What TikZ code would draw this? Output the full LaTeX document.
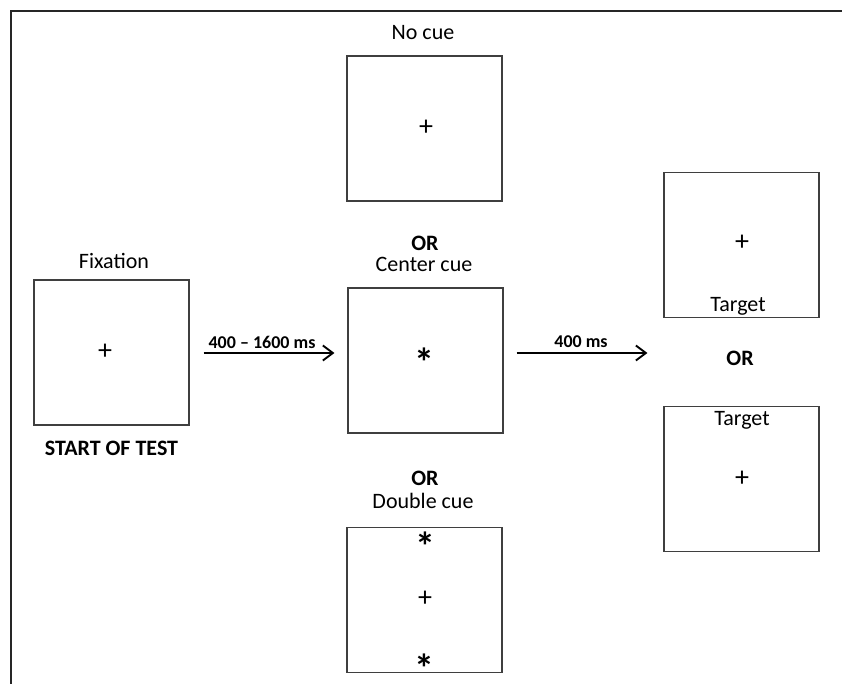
\documentclass[tikz,border=0pt]{standalone}
\usepackage{fontspec}
\setmainfont{Carlito}
\usetikzlibrary{arrows.meta,calc}
\definecolor{frameline}{HTML}{262626}
\definecolor{boxline}{HTML}{3F3F3F}
\begin{document}
\begin{tikzpicture}[x=1pt,y=-1pt,
  screen/.style={draw=boxline,line width=1.1pt,minimum width=155pt,minimum height=145pt,inner sep=0pt},
  lbl/.style={font=\fontsize{22}{26}\selectfont,inner sep=0pt},
  blbl/.style={font=\fontsize{22}{26}\selectfont\bfseries,inner sep=0pt},
  tlbl/.style={font=\fontsize{18}{22}\selectfont\bfseries,inner sep=0pt},
  sym/.style={font=\fontsize{28}{32}\selectfont,inner sep=0pt},
  star/.style={font=\fontsize{40}{44}\selectfont\bfseries,inner sep=0pt,anchor=base},
  arr/.style={line width=1.9pt,-{Straight Barb[length=10pt,width=15pt,line width=1.9pt]}}]
\useasboundingbox (0,0) rectangle (842,684);
\fill[white] (0,0) rectangle (842,684);

% open outer frame
\draw[frameline,line width=2.2pt] (11,684) -- (11,11) -- (842,11);

% fixation screen
\node[screen] (fix) at (111.5,352.5) {};
\node[lbl] (fixlbl) at (114,261) {Fixation};
\node[sym] (fixplus) at (105,352) {+};
\node[blbl] (start) at (111.5,448) {START OF TEST};

% cue screens
\node[screen] (nocue) at (424.5,128.5) {};
\node[lbl] (nocuelbl) at (423,33) {No cue};
\node[sym] (nocueplus) at (426,128) {+};

\node[blbl] (or1) at (425,243) {OR};
\node[lbl] (cclbl) at (424,264) {Center cue};
\node[screen] (cc) at (425.5,360.5) {};
\node[star] (ccstar) at (424,376) {*};

\node[blbl] (or2) at (425,478) {OR};
\node[lbl] (dclbl) at (423,501) {Double cue};
\node[screen] (dc) at (424.5,600) {};
\node[sym] (dcplus) at (425,599) {+};
\node[star] (dcstar1) at (425,560) {*};
\node[star] (dcstar2) at (424,682) {*};

% target screens
\node[screen] (t1) at (741.5,245) {};
\node[sym] (t1plus) at (742,243) {+};
\node[lbl] (t1lbl) at (738,306) {Target};

\node[blbl] (or3) at (740,358) {OR};

\node[screen] (t2) at (741.5,479) {};
\node[lbl] (t2lbl) at (742,420) {Target};
\node[sym] (t2plus) at (742,479) {+};

% timing arrows
\draw[arr] ($(fix.east |- 0,353)+(14,0)$) -- ($(cc.west |- 0,353)+(-13,0)$);
\node[tlbl] (d1) at (262,342) {400 – 1600 ms};
\draw[arr] ($(cc.east |- 0,353)+(13,0)$) -- ($(t1.west |- 0,353)+(-16,0)$);
\node[tlbl] (d2) at (581,342) {400 ms};
\end{tikzpicture}
\end{document}
